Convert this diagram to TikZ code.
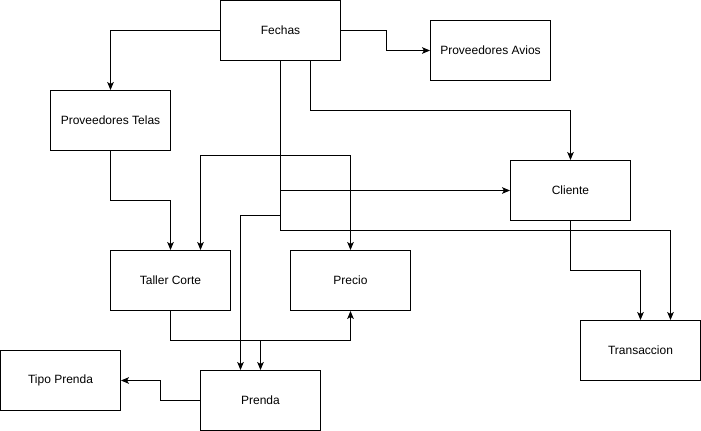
\documentclass[tikz,border=0pt]{standalone}
\usepackage{fontspec}
\setmainfont{Liberation Sans}
\usetikzlibrary{arrows.meta,calc}
\begin{document}
\begin{tikzpicture}[x=0.75pt,y=-0.75pt,
  box/.style={draw,line width=0.75pt,minimum width=90pt,minimum height=45pt,inner sep=0pt,font=\fontsize{9}{11}\selectfont},
  arr/.style={line width=0.75pt,-{Stealth[length=6pt,width=5pt,inset=1.5pt]}}]
\useasboundingbox (-0.5,-0.5) rectangle (700.5,430.5);
\node[box] (fechas) at (280,30) {Fechas};
\node[box] (avios) at (490,50) {Proveedores Avios};
\node[box] (telas) at (110,120) {Proveedores Telas};
\node[box] (cliente) at (570,190) {Cliente};
\node[box] (taller) at (170,280) {Taller Corte};
\node[box] (precio) at (350,280) {Precio};
\node[box] (transaccion) at (640,350) {Transaccion};
\node[box] (tipo) at (60,380) {Tipo Prenda};
\node[box] (prenda) at (260,400) {Prenda};
% Fechas edges
\draw[arr] (fechas.west) -| (telas.north);
\draw[arr] (fechas.east) -- ++(45,0) |- (avios.west);
\draw[arr] ($(fechas.south)+(30,0)$) -- ++(0,50) -| (cliente.north);
\draw[arr] (fechas.south) -- ++(0,95) -| ($(taller.north)+(30,0)$);
\draw[arr] (fechas.south) -- ++(0,95) -| (precio.north);
\draw[arr] (fechas.south) |- (cliente.west);
\draw[arr] (fechas.south) -- ++(0,155) -| ($(prenda.north)+(-20,0)$);
\draw[arr] (fechas.south) -- ++(0,170) -| ($(transaccion.north)+(30,0)$);
% other edges
\draw[arr] (telas.south) -- ++(0,50) -| (taller.north);
\draw[arr] (cliente.south) -- ++(0,50) -| (transaccion.north);
\draw[arr] (taller.south) -- ++(0,30) -| (precio.south);
\draw[arr] (taller.south) -- ++(0,30) -| (prenda.north);
\draw[arr] (prenda.west) -- ++(-40,0) |- (tipo.east);
\end{tikzpicture}
\end{document}
